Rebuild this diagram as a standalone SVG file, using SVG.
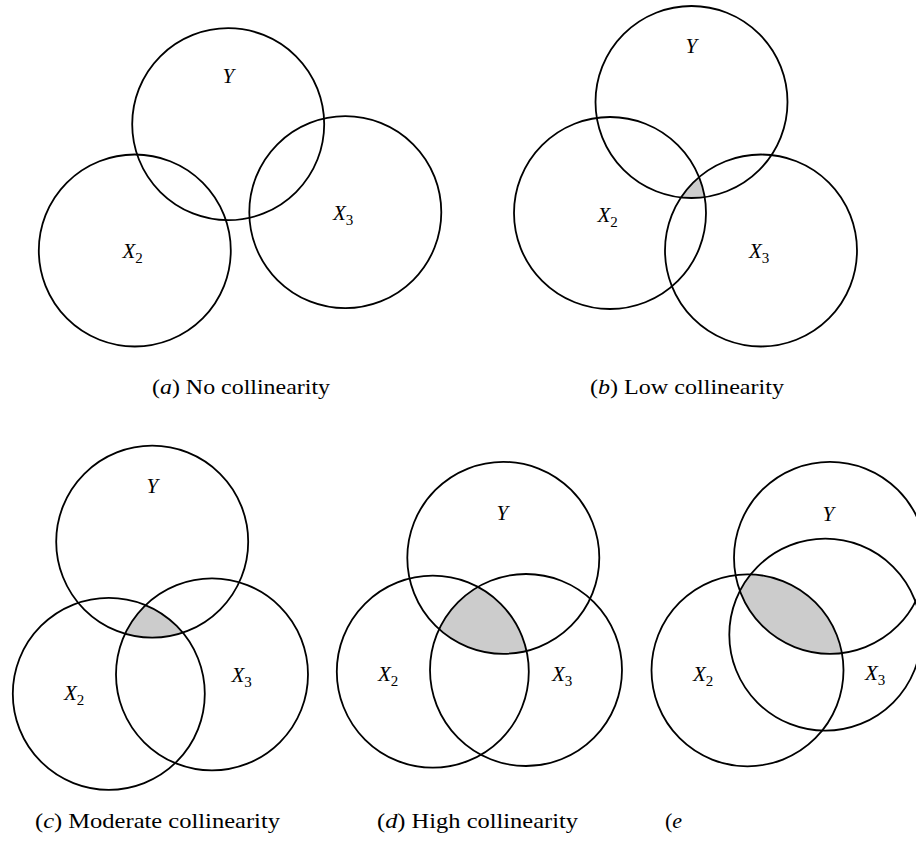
<svg xmlns="http://www.w3.org/2000/svg" width="916" height="844" viewBox="0 0 916 844">
<style>
.c{fill:none;stroke:#000;stroke-width:1.8}
.s{fill:#cccccc;stroke:none}
text{font-family:'Liberation Serif','Times New Roman',serif;fill:#000}
.l{font-size:21px}
.i{font-style:italic}
.sub{font-size:15px;font-style:normal}
.cap{font-size:22px}
</style>
<defs>
<clipPath id="bY"><circle cx="691.5" cy="102" r="96"/></clipPath>
<clipPath id="bX3"><circle cx="761" cy="250.5" r="96"/></clipPath>
<clipPath id="cY"><circle cx="152.2" cy="541.7" r="96"/></clipPath>
<clipPath id="cX3"><circle cx="212" cy="674.4" r="96"/></clipPath>
<clipPath id="dY"><circle cx="503.3" cy="557.8" r="96"/></clipPath>
<clipPath id="dX3"><circle cx="526" cy="670" r="96"/></clipPath>
<clipPath id="eY"><circle cx="830" cy="557.8" r="96"/></clipPath>
<clipPath id="eX3"><circle cx="825.3" cy="634.7" r="96"/></clipPath>
</defs>
<rect width="916" height="844" fill="#fff"/>

<g id="panel-a">
<g id="a-Y"><circle class="c" cx="228.2" cy="124.2" r="96"/><text class="l i" x="222.5" y="83" font-family="Liberation Serif, serif">Y</text></g>
<g id="a-X2"><circle class="c" cx="134.8" cy="250.5" r="96"/><text class="l" x="122.5" y="258" font-family="Liberation Serif, serif"><tspan class="i">X</tspan><tspan class="sub" dy="5">2</tspan></text></g>
<g id="a-X3"><circle class="c" cx="345.3" cy="212.2" r="96"/><text class="l" x="333" y="220" font-family="Liberation Serif, serif"><tspan class="i">X</tspan><tspan class="sub" dy="5">3</tspan></text></g>
<text class="cap" x="152" y="394" textLength="178" lengthAdjust="spacingAndGlyphs" font-family="Liberation Serif, serif">(<tspan class="i">a</tspan>) No collinearity</text>
</g>

<g id="panel-b">
<g id="b-shade" clip-path="url(#bY)"><circle class="s" cx="610" cy="213" r="96" clip-path="url(#bX3)"/></g>
<g id="b-Y"><circle class="c" cx="691.5" cy="102" r="96"/><text class="l i" x="685.5" y="53" font-family="Liberation Serif, serif">Y</text></g>
<g id="b-X2"><circle class="c" cx="610" cy="213" r="96"/><text class="l" x="597.5" y="221.5" font-family="Liberation Serif, serif"><tspan class="i">X</tspan><tspan class="sub" dy="5">2</tspan></text></g>
<g id="b-X3"><circle class="c" cx="761" cy="250.5" r="96"/><text class="l" x="749" y="258" font-family="Liberation Serif, serif"><tspan class="i">X</tspan><tspan class="sub" dy="5">3</tspan></text></g>
<text class="cap" x="590" y="394" textLength="194" lengthAdjust="spacingAndGlyphs" font-family="Liberation Serif, serif">(<tspan class="i">b</tspan>) Low collinearity</text>
</g>

<g id="panel-c">
<g id="c-shade" clip-path="url(#cY)"><circle class="s" cx="108.8" cy="693.8" r="96" clip-path="url(#cX3)"/></g>
<g id="c-Y"><circle class="c" cx="152.2" cy="541.7" r="96"/><text class="l i" x="146.5" y="493" font-family="Liberation Serif, serif">Y</text></g>
<g id="c-X2"><circle class="c" cx="108.8" cy="693.8" r="96"/><text class="l" x="64" y="700" font-family="Liberation Serif, serif"><tspan class="i">X</tspan><tspan class="sub" dy="5">2</tspan></text></g>
<g id="c-X3"><circle class="c" cx="212" cy="674.4" r="96"/><text class="l" x="231.5" y="681.5" font-family="Liberation Serif, serif"><tspan class="i">X</tspan><tspan class="sub" dy="5">3</tspan></text></g>
<text class="cap" x="35" y="828" textLength="245" lengthAdjust="spacingAndGlyphs" font-family="Liberation Serif, serif">(<tspan class="i">c</tspan>) Moderate collinearity</text>
</g>

<g id="panel-d">
<g id="d-shade" clip-path="url(#dY)"><circle class="s" cx="432.8" cy="671.7" r="96" clip-path="url(#dX3)"/></g>
<g id="d-Y"><circle class="c" cx="503.3" cy="557.8" r="96"/><text class="l i" x="496.5" y="520" font-family="Liberation Serif, serif">Y</text></g>
<g id="d-X2"><circle class="c" cx="432.8" cy="671.7" r="96"/><text class="l" x="378" y="681" font-family="Liberation Serif, serif"><tspan class="i">X</tspan><tspan class="sub" dy="5">2</tspan></text></g>
<g id="d-X3"><circle class="c" cx="526" cy="670" r="96"/><text class="l" x="552" y="681" font-family="Liberation Serif, serif"><tspan class="i">X</tspan><tspan class="sub" dy="5">3</tspan></text></g>
<text class="cap" x="377" y="828" textLength="201" lengthAdjust="spacingAndGlyphs" font-family="Liberation Serif, serif">(<tspan class="i">d</tspan>) High collinearity</text>
</g>

<g id="panel-e">
<g id="e-shade" clip-path="url(#eY)"><circle class="s" cx="747.5" cy="670.3" r="96" clip-path="url(#eX3)"/></g>
<g id="e-Y"><circle class="c" cx="830" cy="557.8" r="96"/><text class="l i" x="822.5" y="521" font-family="Liberation Serif, serif">Y</text></g>
<g id="e-X2"><circle class="c" cx="747.5" cy="670.3" r="96"/><text class="l" x="693" y="680.5" font-family="Liberation Serif, serif"><tspan class="i">X</tspan><tspan class="sub" dy="5">2</tspan></text></g>
<g id="e-X3"><circle class="c" cx="825.3" cy="634.7" r="96"/><text class="l" x="865" y="680" font-family="Liberation Serif, serif"><tspan class="i">X</tspan><tspan class="sub" dy="5">3</tspan></text></g>
<text class="cap" x="665" y="828" font-family="Liberation Serif, serif">(<tspan class="i">e</tspan></text>
</g>
</svg>
